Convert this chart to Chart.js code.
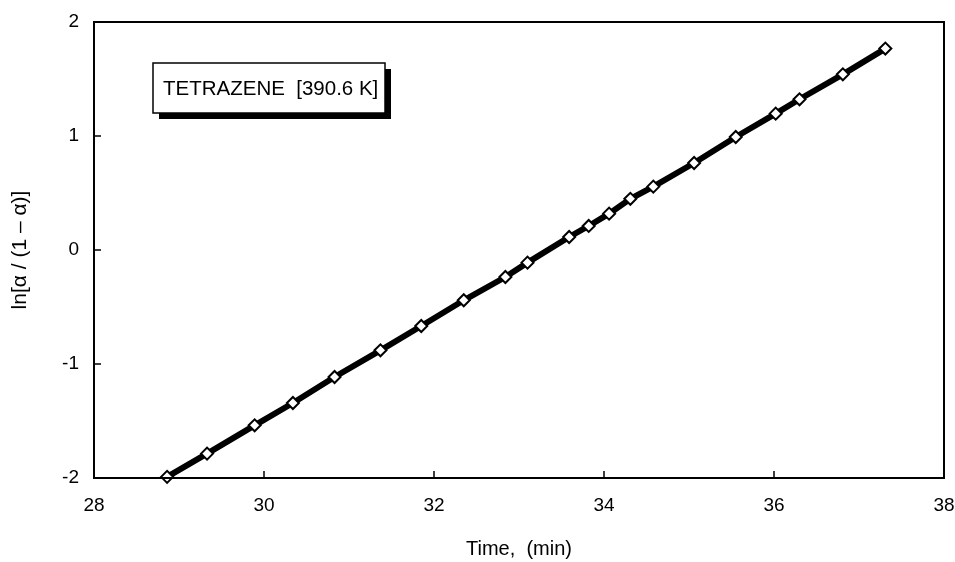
<!DOCTYPE html>
<html>
<head>
<meta charset="utf-8">
<title>Tetrazene</title>
<script src="https://cdn.jsdelivr.net/npm/chart.js@4.4.1/dist/chart.umd.min.js"></script>
<style>
  html, body { margin: 0; padding: 0; background: #fff; }
  #wrap { width: 955px; height: 562px; }
</style>
</head>
<body>
<div id="wrap"><canvas id="chart" width="955" height="562"></canvas></div>
<script>
// values
const timeMin = [28.86, 29.33, 29.89, 30.34, 30.83, 31.37, 31.85, 32.35, 32.84, 33.10, 33.59,
                 33.82, 34.06, 34.31, 34.58, 35.06, 35.55, 36.02, 36.30, 36.81, 37.31];
const lnRatio = [-1.99, -1.786, -1.538, -1.342, -1.114, -0.880, -0.667, -0.441, -0.237, -0.111, 0.114,
                 0.211, 0.319, 0.449, 0.556, 0.763, 0.991, 1.196, 1.322, 1.541, 1.767];
const xTicks = [28, 30, 32, 34, 36, 38];
const yTicks = [-2, -1, 0, 1, 2];
const boxLabel = 'TETRAZENE  [390.6 K]';

const FONT = '"Liberation Sans", Arial, Helvetica, sans-serif';

// frame, inward ticks and the label box
const framePlugin = {
    id: 'frame',
    afterDraw(chart) {
        const { ctx, chartArea: a, scales } = chart;
        ctx.save();
        ctx.strokeStyle = '#000';
        ctx.lineWidth = 2;
        ctx.strokeRect(a.left, a.top, a.right - a.left, a.bottom - a.top);

        // inward ticks
        ctx.lineWidth = 1.5;
        ctx.beginPath();
        xTicks.forEach(v => {
            if (v === 28 || v === 38) return;
            const px = scales.x.getPixelForValue(v);
            ctx.moveTo(px, a.bottom);
            ctx.lineTo(px, a.bottom - 7);
        });
        yTicks.forEach(v => {
            if (v === -2 || v === 2) return;
            const py = scales.y.getPixelForValue(v);
            ctx.moveTo(a.left, py);
            ctx.lineTo(a.left + 7, py);
        });
        ctx.stroke();

        // label box with shadow
        const bx = a.left + 59, by = a.top + 41, bw = 232, bh = 50;
        ctx.fillStyle = '#000';
        ctx.fillRect(bx + 6, by + 6, bw, bh);
        ctx.fillStyle = '#fff';
        ctx.fillRect(bx, by, bw, bh);
        ctx.lineWidth = 1.5;
        ctx.strokeRect(bx, by, bw, bh);
        ctx.fillStyle = '#000';
        ctx.font = '20.5px ' + FONT;
        ctx.textBaseline = 'middle';
        ctx.textAlign = 'left';
        ctx.fillText(boxLabel, bx + 10, by + bh / 2 + 1);
        ctx.restore();
    }
};

const ctx = document.getElementById('chart').getContext('2d');
new Chart(ctx, {
    type: 'scatter',
    data: {
        datasets: [{
            data: timeMin.map((t, i) => ({ x: t, y: lnRatio[i] })),
            showLine: true,
            borderColor: '#000',
            borderWidth: 6,
            pointStyle: 'rectRot',
            pointRadius: 6,
            pointBorderWidth: 2,
            pointBackgroundColor: '#fff',
            pointBorderColor: '#000',
            clip: false
        }]
    },
    options: {
        responsive: false,
        animation: false,
        layout: { padding: { top: 22, right: 11, left: 0, bottom: 0 } },
        plugins: {
            legend: { display: false },
            tooltip: { enabled: false }
        },
        scales: {
            x: {
                type: 'linear',
                min: 28,
                max: 38,
                afterBuildTicks: s => { s.ticks = xTicks.map(v => ({ value: v })); },
                afterFit: s => { s.height = 84; s.paddingLeft = 0; s.paddingRight = 0; },
                grid: { display: false, drawTicks: false },
                border: { display: false },
                ticks: { color: '#000', padding: 16, font: { family: FONT, size: 19 } },
                title: {
                    display: true,
                    text: 'Time,  (min)',
                    color: '#000',
                    font: { family: FONT, size: 20 },
                    padding: { top: 0, bottom: 1 }
                }
            },
            y: {
                type: 'linear',
                min: -2,
                max: 2,
                afterBuildTicks: s => { s.ticks = yTicks.map(v => ({ value: v })); },
                afterFit: s => { s.width = 94; s.paddingTop = 0; s.paddingBottom = 0; },
                grid: { display: false, drawTicks: false },
                border: { display: false },
                ticks: { color: '#000', padding: 15, font: { family: FONT, size: 19 } },
                title: {
                    display: true,
                    text: 'ln[α / (1 – α)]',
                    color: '#000',
                    font: { family: FONT, size: 21 },
                    padding: { top: 8, bottom: 0 }
                }
            }
        }
    },
    plugins: [framePlugin]
});
</script>
</body>
</html>
